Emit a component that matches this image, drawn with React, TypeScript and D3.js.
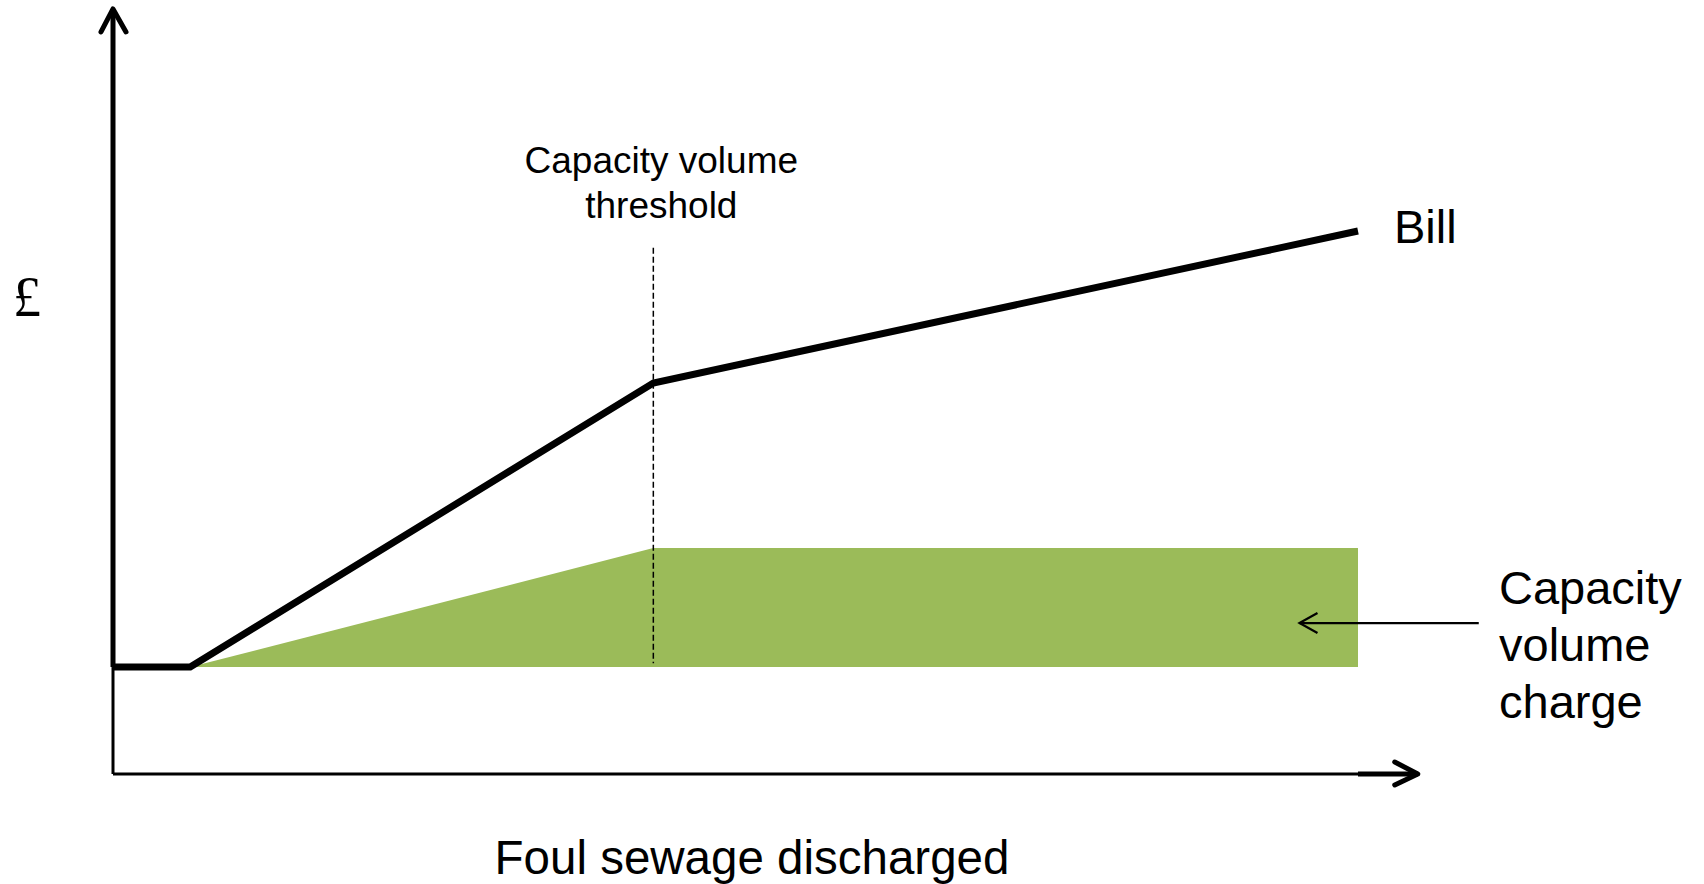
import { useEffect, useRef } from 'react';
import * as d3 from 'd3';

// Foul sewage volume (x) against bill in £ (y), arbitrary units
const billVolume = [0, 6.2, 43.4, 100];
const billAmount = [19.7, 19.7, 72, 100];

const chargeVolume = [6.2, 43.4, 100];
const chargeTop = [19.7, 41.6, 41.6];
const chargeBase = [19.7, 19.7, 19.7];

const thresholdVolume = 43.4;
const thresholdLabel = ['Capacity volume', 'threshold'];
const chargeLabel = ['Capacity', 'volume', 'charge'];
const billLabel = 'Bill';
const xTitle = 'Foul sewage discharged';
const yTitle = '£';

const WIDTH = 1704;
const HEIGHT = 884;
const SANS = '"Liberation Sans", Arial, Helvetica, sans-serif';

export default function App() {
    const svgRef = useRef(null);

    useEffect(() => {
        document.body.style.margin = '0';

        const svg = d3.select(svgRef.current);
        svg.selectAll('*').remove();

        // Scales: origin of the diagram sits at (113, 774)
        const x = d3.scaleLinear().domain([0, 100]).range([113, 1358]);
        const y = d3.scaleLinear().domain([0, 100]).range([774, 231]);

        const xAxisEnd = 104.8;
        const yAxisEnd = 140.9;

        // Green capacity volume charge area
        const area = d3.area()
            .x((_, i) => x(chargeVolume[i]))
            .y0((_, i) => y(chargeBase[i]))
            .y1((_, i) => y(chargeTop[i]));
        svg.append('path')
            .attr('d', area(chargeVolume))
            .attr('fill', '#9BBB59');

        // Threshold dashed line
        svg.append('line')
            .attr('x1', x(thresholdVolume))
            .attr('x2', x(thresholdVolume))
            .attr('y1', y(96.9))
            .attr('y2', y(20.4))
            .attr('stroke', '#000')
            .attr('stroke-width', 1.5)
            .attr('stroke-dasharray', '6,3');

        // Axes: thin base lines
        svg.append('line')
            .attr('x1', x(0)).attr('y1', y(0))
            .attr('x2', x(100)).attr('y2', y(0))
            .attr('stroke', '#000').attr('stroke-width', 3);
        svg.append('line')
            .attr('x1', x(0)).attr('y1', y(0))
            .attr('x2', x(0)).attr('y2', y(19.7))
            .attr('stroke', '#000').attr('stroke-width', 3);

        // Axes: thick arrow parts
        const arrow = svg.append('g')
            .attr('fill', 'none')
            .attr('stroke', '#000')
            .attr('stroke-width', 5)
            .attr('stroke-linecap', 'round')
            .attr('stroke-linejoin', 'round');

        arrow.append('path')
            .attr('d', `M${x(0)},${y(19.7)} L${x(0)},${y(yAxisEnd)}`)
            .attr('stroke-linecap', 'butt');
        arrow.append('path')
            .attr('d', `M${x(0) - 12},${y(yAxisEnd) + 23} L${x(0)},${y(yAxisEnd)} L${x(0) + 13},${y(yAxisEnd) + 23}`);

        arrow.append('path')
            .attr('d', `M${x(100)},${y(0)} L${x(xAxisEnd)},${y(0)}`)
            .attr('stroke-linecap', 'butt');
        arrow.append('path')
            .attr('d', `M${x(xAxisEnd) - 23},${y(0) - 12} L${x(xAxisEnd)},${y(0)} L${x(xAxisEnd) - 23},${y(0) + 11}`);

        // Bill line
        const line = d3.line()
            .x((_, i) => x(billVolume[i]))
            .y((_, i) => y(billAmount[i]));
        svg.append('path')
            .attr('d', line(billVolume))
            .attr('fill', 'none')
            .attr('stroke', '#000')
            .attr('stroke-width', 7)
            .attr('stroke-linejoin', 'miter');

        // Pointer arrow for capacity volume charge
        const py = y(27.8);
        svg.append('path')
            .attr('d', `M${x(109.7)},${py} L${x(95.3)},${py}`)
            .attr('stroke', '#000')
            .attr('stroke-width', 2.2);
        svg.append('path')
            .attr('d', `M${x(95.3) + 18},${py - 10} L${x(95.3)},${py} L${x(95.3) + 18},${py + 10}`)
            .attr('fill', 'none')
            .attr('stroke', '#000')
            .attr('stroke-width', 2.2);

        // Labels
        const threshold = svg.append('text')
            .attr('x', x(thresholdVolume) + 8)
            .attr('y', 173)
            .attr('text-anchor', 'middle')
            .style('font-family', SANS)
            .style('font-size', '37px');
        thresholdLabel.forEach((t, i) => {
            threshold.append('tspan')
                .attr('x', x(thresholdVolume) + 8)
                .attr('dy', i === 0 ? 0 : 45)
                .text(t);
        });

        svg.append('text')
            .attr('x', x(100) + 36)
            .attr('y', 243)
            .style('font-family', SANS)
            .style('font-size', '47px')
            .text(billLabel);

        const charge = svg.append('text')
            .attr('x', 1499)
            .attr('y', 604)
            .style('font-family', SANS)
            .style('font-size', '47px');
        chargeLabel.forEach((t, i) => {
            charge.append('tspan')
                .attr('x', 1499)
                .attr('dy', i === 0 ? 0 : 57)
                .text(t);
        });

        svg.append('text')
            .attr('x', 752)
            .attr('y', 874)
            .attr('text-anchor', 'middle')
            .style('font-family', SANS)
            .style('font-size', '47.5px')
            .text(xTitle);

        svg.append('text')
            .attr('x', 27)
            .attr('y', 316)
            .attr('text-anchor', 'middle')
            .style('font-family', '"Liberation Serif", "DejaVu Serif", serif')
            .style('font-size', '56px')
            .text(yTitle);
    }, []);

    return <svg ref={svgRef} width={WIDTH} height={HEIGHT} style={{ display: 'block' }}></svg>;
}
